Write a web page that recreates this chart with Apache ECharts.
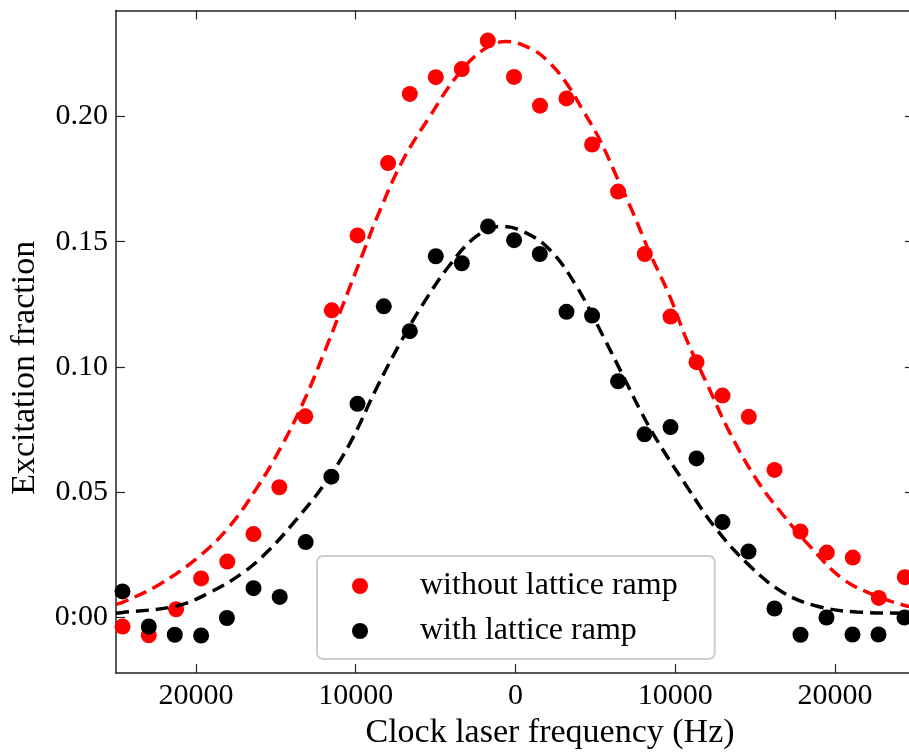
<!DOCTYPE html>
<html>
<head>
<meta charset="utf-8">
<script src="https://cdn.jsdelivr.net/npm/echarts@6/dist/echarts.min.js"></script>
<style>
html,body{margin:0;padding:0;background:#fff;}
#chart{width:909px;height:755px;}
</style>
</head>
<body>
<div id="chart"></div>
<script>
// ---- data ----
const redFreq = [-24593,-22948,-21239,-19675,-18035,-16395,-14781,-13154,-11496,-9887,-7973,-6615,-4988,-3360,-1733,-94,1533,3191,4793,6421,8091,9700,11327,12954,14600,16208,17835,19481,21108,22735,24362];
const redExc  = [-0.0036,-0.0071,0.0033,0.0156,0.0223,0.0333,0.0520,0.0803,0.1226,0.1525,0.1814,0.2090,0.2157,0.2189,0.2303,0.2158,0.2043,0.2072,0.1888,0.1700,0.1451,0.1201,0.1019,0.0886,0.0801,0.0589,0.0343,0.0259,0.0239,0.0078,0.0161];

const blackFreq = [-24593,-22948,-21321,-19675,-18060,-16395,-14756,-13129,-11521,-9887,-8242,-6615,-4988,-3360,-1714,-88,1521,3191,4793,6421,8072,9700,11327,12954,14581,16208,17835,19462,21089,22716,24343];
const blackExc  = [0.0104,-0.0036,-0.0069,-0.0072,-0.0002,0.0117,0.0082,0.0301,0.0562,0.0853,0.1242,0.1143,0.1442,0.1414,0.1561,0.1506,0.1451,0.1220,0.1205,0.0943,0.0731,0.0760,0.0635,0.0381,0.0263,0.0036,-0.0069,0.0000,-0.0068,-0.0068,0.0000];

const redFitFreq = [-25000,-24593,-22259,-19756,-17879,-16208,-14750,-13292,-11827,-10788,-9537,-8617,-7034,-5363,-3692,-2028,-607,1101,2146,3191,4230,5275,6320,7359,8404,9656,10701,11952,13410,15081,16746,18416,20500,22590,24468,25000];
const redFitVal  = [0.0053,0.0060,0.0133,0.0246,0.0365,0.0515,0.0671,0.0857,0.1080,0.1250,0.1455,0.1605,0.1827,0.2000,0.2159,0.2266,0.2299,0.2266,0.2213,0.2133,0.2023,0.1907,0.1761,0.1615,0.1455,0.1282,0.1110,0.0937,0.0738,0.0551,0.0409,0.0285,0.0153,0.0086,0.0046,0.0042];

const blackFitFreq = [-25000,-24593,-21214,-19130,-17046,-15376,-13705,-12040,-10369,-8698,-7240,-5782,-4111,-2441,-982,476,2146,3817,5482,6946,7778,8823,10701,12578,14662,16746,18836,21339,24468,25000];
const blackFitVal  = [0.0017,0.0020,0.0046,0.0100,0.0179,0.0272,0.0392,0.0525,0.0694,0.0915,0.1093,0.1252,0.1407,0.1522,0.1561,0.1541,0.1468,0.1322,0.1123,0.0937,0.0831,0.0711,0.0525,0.0352,0.0206,0.0100,0.0046,0.0022,0.0017,0.0016];

const xTickValues = [-20000,-10000,0,10000,20000];
const xTickLabels = ['20000','10000','0','10000','20000'];
const yTickValues = [0,0.05,0.10,0.15,0.20];
const yTickLabels = ['0:00','0.05','0.10','0.15','0.20'];

const seriesNames = ['without lattice ramp','with lattice ramp'];
const xName = 'Clock laser frequency (Hz)';
const yName = 'Excitation fraction';

// ---- chart ----
const FONT = 'Liberation Serif';
const AX = '#222';
const X_MIN = -25000, X_MAX = 24625;   // visible part of the axis (the right spine lies just outside the picture)
const Y_MIN = -0.0222, Y_MAX = 0.2423;
function lbl(vals, labs){
  return function(v){
    for (let i=0;i<vals.length;i++){ if (Math.abs(vals[i]-v) < 1e-9) return labs[i]; }
    return '';
  };
}
const pairs = (xs, ys) => xs.map((x,i)=>[x, ys[i]]);

const chart = echarts.init(document.getElementById('chart'), null, {renderer:'canvas'});
const axisLineStyle = {show:true, onZero:false, lineStyle:{color:AX, width:1.5}};
chart.setOption({
  animation:false,
  backgroundColor:'#ffffff',
  grid:{left:116, top:10.5, right:0, height:663.5, containLabel:false},
  xAxis:[
    {type:'value', min:X_MIN, max:X_MAX, position:'bottom',
     axisLine:axisLineStyle,
     axisTick:{show:true, inside:true, length:9, customValues:xTickValues, lineStyle:{color:AX,width:1.2}},
     axisLabel:{show:true, customValues:xTickValues, formatter:lbl(xTickValues,xTickLabels), fontFamily:FONT, fontSize:30, color:'#000', margin:8},
     splitLine:{show:false},
     name:xName, nameLocation:'middle', nameGap:39,
     nameTextStyle:{fontFamily:FONT, fontSize:34, color:'#000', padding:[0,0,0,75]}
    },
    {type:'value', min:X_MIN, max:X_MAX, position:'top',
     axisLine:axisLineStyle,
     axisTick:{show:true, inside:true, length:9, customValues:xTickValues, lineStyle:{color:AX,width:1.2}},
     axisLabel:{show:false}, splitLine:{show:false}
    }
  ],
  yAxis:[
    {type:'value', min:Y_MIN, max:Y_MAX, position:'left',
     axisLine:axisLineStyle,
     axisTick:{show:true, inside:true, length:9, customValues:yTickValues, lineStyle:{color:AX,width:1.2}},
     axisLabel:{show:true, customValues:yTickValues, formatter:lbl(yTickValues,yTickLabels), fontFamily:FONT, fontSize:30, color:'#000', margin:8},
     splitLine:{show:false},
     name:yName, nameLocation:'middle', nameGap:74,
     nameTextStyle:{fontFamily:FONT, fontSize:34, color:'#000', padding:[0,52,0,0]}
    },
    {type:'value', min:Y_MIN, max:Y_MAX, position:'right',
     axisLine:{show:false, onZero:false},
     axisTick:{show:true, inside:true, length:4, customValues:yTickValues, lineStyle:{color:AX,width:1.2}},
     axisLabel:{show:false}, splitLine:{show:false}
    }
  ],
  legend:{
    orient:'vertical', left:317, top:556,
    data:[{name:seriesNames[0], icon:'circle'},{name:seriesNames[1], icon:'circle'}],
    itemWidth:16, itemHeight:16, itemGap:13,
    padding:[14,37,12,35],
    backgroundColor:'#ffffff', borderColor:'#cccccc', borderWidth:2, borderRadius:6,
    textStyle:{fontFamily:FONT, fontSize:32, color:'#000', lineHeight:32, padding:[0,0,0,47]}
  },
  series:[
    {name:seriesNames[0], type:'scatter', xAxisIndex:0, yAxisIndex:0, data:pairs(redFreq,redExc),
     symbol:'circle', symbolSize:16, itemStyle:{color:'#ff0000', opacity:1}, z:2},
    {name:seriesNames[1], type:'scatter', xAxisIndex:0, yAxisIndex:0, data:pairs(blackFreq,blackExc),
     symbol:'circle', symbolSize:16, itemStyle:{color:'#000000', opacity:1}, z:2},
    {name:'red fit', type:'line', xAxisIndex:0, yAxisIndex:0, data:pairs(redFitFreq,redFitVal),
     showSymbol:false, smooth:0.4, silent:true, lineStyle:{color:'#ff0000', width:3.5, type:[13,7]}, z:3},
    {name:'black fit', type:'line', xAxisIndex:0, yAxisIndex:0, data:pairs(blackFitFreq,blackFitVal),
     showSymbol:false, smooth:0.4, silent:true, lineStyle:{color:'#000000', width:3.5, type:[13,7]}, z:3}
  ]
});
</script>
</body>
</html>
